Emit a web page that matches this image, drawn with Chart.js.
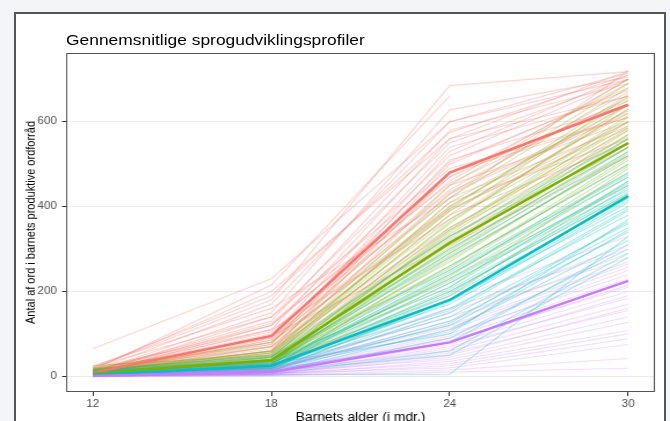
<!DOCTYPE html>
<html lang="da">
<head>
    <meta charset="UTF-8">
    <title>Gennemsnitlige sprogudviklingsprofiler</title>
    <script src="https://cdn.jsdelivr.net/npm/chart.js"></script>
    <style>
        body {
            margin: 0;
            width: 670px;
            height: 421px;
            overflow: hidden;
            background-color: #f4f5f8;
            font-family: "Liberation Sans", Arial, sans-serif;
        }
        .frame {
            position: absolute;
            left: 14px;
            top: 12px;
            width: 648px;
            height: 440px;
            border: 2px solid #555;
            background: #fff;
        }
        /* the screenshot is a bit wider than tall, so stretch the chart sideways */
        .stage {
            position: absolute;
            left: 0;
            top: 0;
            width: 578px;
            height: 440px;
            transform: scaleX(1.1592);
            transform-origin: 0 0;
        }
        .title {
            position: absolute;
            left: 57px;
            top: 32px;
            font-size: 15px;
            line-height: 15px;
            color: #000;
            white-space: nowrap;
        }
        .holder {
            position: absolute;
            left: 0;
            top: 0;
            width: 578px;
            height: 440px;
        }
    </style>
</head>
<body>
    <div class="frame"></div>
    <div class="stage">
        <div class="title">Gennemsnitlige sprogudviklingsprofiler</div>
        <div class="holder"><canvas id="myChart"></canvas></div>
    </div>

    <script>
        // alder i maaneder
        const ages = [12, 18, 24, 30]
        const yTicks = [0, 200, 400, 600]

        // gennemsnit for hver profil
        const meanRed = [8, 95, 480, 640]
        const meanGreen = [6, 38, 315, 550]
        const meanCyan = [3, 25, 180, 425]
        const meanPurple = [1, 10, 80, 225]

        // enkelte boern
        const kidsRed = [
            [14, 215, 661, null],
            [20, 180, 685, 718],
            [10, 150, 628, 705],
            [12, 130, 580, 690],
            [8, 110, 560, 720],
            [15, 95, 540, 660],
            [5, 120, 520, 700],
            [18, 75, 510, 640],
            [6, 60, 500, 680],
            [22, 140, 490, 610],
            [9, 85, 470, 650],
            [11, 100, 460, 700],
            [3, 55, 450, 600],
            [16, 90, 440, 670],
            [7, 70, 430, 620],
            [25, 160, 420, 590],
            [4, 50, 410, 560],
            [13, 80, 400, 640],
            [10, 65, 390, 600],
            [2, 45, 380, 550],
            [19, 110, 370, 630],
            [8, 70, 350, 580],
            [6, 55, 330, 540],
            [12, 95, 310, 520],
            [65, 230, 600, 700],
            [14, 120, 470, 690],
            [9, 75, 530, 710],
            [17, 200, 560, 660],
            [5, 85, 420, 720],
            [11, 60, 480, 610],
            [7, 140, 550, 700],
            [13, 170, 600, 715],
            [4, 90, 505, 675],
            [10, 125, 455, 655],
            [16, 105, 435, 625],
            [6, 80, 395, 585],
            [21, 190, 575, 710],
            [9, 60, 345, 565]
        ]
        const kidsGreen = [
            [20, 80, 450, 700],
            [15, 70, 420, 680],
            [10, 60, 400, 650],
            [25, 50, 390, 620],
            [8, 45, 380, 660],
            [12, 55, 370, 600],
            [5, 40, 360, 640],
            [18, 35, 350, 590],
            [6, 30, 340, 610],
            [10, 42, 330, 570],
            [3, 25, 320, 560],
            [14, 38, 310, 580],
            [7, 33, 300, 540],
            [9, 28, 290, 550],
            [2, 20, 280, 520],
            [11, 36, 270, 530],
            [4, 22, 260, 500],
            [16, 48, 250, 510],
            [5, 18, 240, 480],
            [8, 30, 230, 470],
            [3, 15, 220, 450],
            [12, 40, 210, 490],
            [6, 25, 200, 430],
            [9, 32, 190, 460],
            [4, 12, 180, 420],
            [13, 45, 335, 600],
            [7, 27, 305, 570],
            [10, 35, 285, 540],
            [11, 52, 430, 690],
            [6, 44, 410, 640],
            [17, 58, 395, 665],
            [4, 26, 345, 615],
            [9, 37, 325, 585],
            [14, 47, 295, 560],
            [5, 21, 275, 525],
            [8, 34, 255, 515],
            [3, 19, 235, 495],
            [12, 29, 365, 630]
        ]
        const kidsCyan = [
            [15, 50, 330, 560],
            [12, 45, 300, 540],
            [10, 40, 280, 520],
            [8, 35, 260, 500],
            [14, 30, 250, 480],
            [5, 28, 240, 470],
            [9, 25, 230, 450],
            [6, 22, 220, 440],
            [11, 32, 210, 460],
            [4, 20, 200, 430],
            [7, 18, 190, 420],
            [3, 15, 180, 400],
            [10, 26, 170, 410],
            [5, 12, 160, 380],
            [2, 10, 150, 390],
            [8, 24, 140, 360],
            [4, 14, 130, 350],
            [6, 20, 120, 340],
            [3, 8, 110, 320],
            [9, 30, 100, 370],
            [2, 6, 90, 300],
            [5, 16, 80, 310],
            [1, 5, 60, 290],
            [7, 12, 50, 280],
            [2, 4, 5, 330],
            [6, 18, 195, 445],
            [9, 38, 290, 530],
            [4, 21, 245, 475],
            [11, 33, 225, 455],
            [6, 17, 205, 435],
            [3, 13, 175, 415],
            [8, 27, 155, 395],
            [2, 9, 125, 365],
            [5, 19, 105, 345]
        ]
        const kidsPurple = [
            [10, 30, 180, 330],
            [8, 25, 160, 300],
            [5, 20, 140, 280],
            [6, 18, 120, 270],
            [3, 15, 110, 257],
            [4, 12, 100, 240],
            [2, 10, 90, 230],
            [7, 14, 85, 210],
            [1, 8, 75, 200],
            [3, 6, 70, 184],
            [5, 12, 60, 170],
            [2, 5, 55, 155],
            [0, 4, 45, 140],
            [4, 9, 40, 127],
            [1, 3, 35, 108],
            [2, 6, 30, 100],
            [0, 2, 25, 89],
            [3, 7, 20, 75],
            [1, 2, 15, 42],
            [0, 1, 10, 19],
            [6, 16, 130, 290],
            [2, 8, 65, 190],
            [4, 14, 150, 310],
            [7, 20, 115, 265],
            [2, 9, 80, 215],
            [1, 5, 50, 160],
            [3, 11, 95, 250]
        ]

        const toPoints = (vals) => ages.map((a, i) => ({ x: a, y: vals[i] }))

        const faint = (list, color, order) => list.map(v => ({
            data: toPoints(v),
            borderColor: color,
            borderWidth: 1.2,
            pointRadius: 0,
            order: order
        }))

        const mean = (vals, color, order) => ({
            data: toPoints(vals),
            borderColor: color,
            borderWidth: 2.5,
            pointRadius: 0,
            order: order
        })

        const datasets = [
            ...faint(kidsRed, 'rgba(248,118,109,0.3)', 7),
            ...faint(kidsGreen, 'rgba(124,174,0,0.3)', 6),
            ...faint(kidsCyan, 'rgba(0,191,196,0.3)', 5),
            ...faint(kidsPurple, 'rgba(199,124,255,0.24)', 4),
            mean(meanRed, '#F8766D', 3),
            mean(meanGreen, '#7CAE00', 2),
            mean(meanCyan, '#00BFC4', 1),
            mean(meanPurple, '#C77CFF', 0)
        ]

        // ramme rundt om panelet
        const panelBorder = {
            id: 'panelBorder',
            afterDraw(chart) {
                const a = chart.chartArea
                const c = chart.ctx
                c.save()
                c.strokeStyle = '#555'
                c.lineWidth = 1
                c.strokeRect(a.left + 0.5, a.top + 0.5, a.right - a.left - 1, a.bottom - a.top - 1)
                c.restore()
            }
        }

        Chart.defaults.font.family = '"Liberation Sans", Arial, sans-serif'

        const ctx = document.getElementById('myChart')
        const myChart = new Chart(ctx, {
            type: 'line',
            data: { datasets: datasets },
            plugins: [panelBorder],
            options: {
                responsive: true,
                maintainAspectRatio: false,
                animation: false,
                layout: { padding: { top: 53, right: 13, left: 0, bottom: 0 } },
                plugins: {
                    legend: { display: false },
                    tooltip: { enabled: false }
                },
                elements: { line: { tension: 0 } },
                scales: {
                    x: {
                        type: 'linear',
                        min: 11.1,
                        max: 30.9,
                        afterBuildTicks: (s) => { s.ticks = ages.map(v => ({ value: v })) },
                        afterFit: (s) => { s.height = 48 },
                        grid: { drawOnChartArea: false, tickLength: 4, tickColor: '#333' },
                        border: { display: false },
                        ticks: { color: '#4d4d4d', font: { size: 10 }, padding: 2, maxRotation: 0 },
                        title: {
                            display: true,
                            text: 'Barnets alder (i mdr.)',
                            color: '#000',
                            font: { size: 12 },
                            padding: { top: 0, bottom: 15 }
                        }
                    },
                    y: {
                        min: -37,
                        max: 762,
                        afterBuildTicks: (s) => { s.ticks = yTicks.map(v => ({ value: v })) },
                        afterFit: (s) => { s.width = 57 },
                        grid: { color: '#ebebeb', tickLength: 3.5, tickColor: '#333' },
                        border: { display: false },
                        ticks: { color: '#4d4d4d', font: { size: 10 }, padding: 4.5 },
                        title: {
                            display: true,
                            text: 'Antal af ord i barnets produktive ordforråd',
                            color: '#000',
                            font: { size: 11 },
                            padding: { top: 20, bottom: 0 }
                        }
                    }
                }
            }
        })
    </script>
</body>
</html>
